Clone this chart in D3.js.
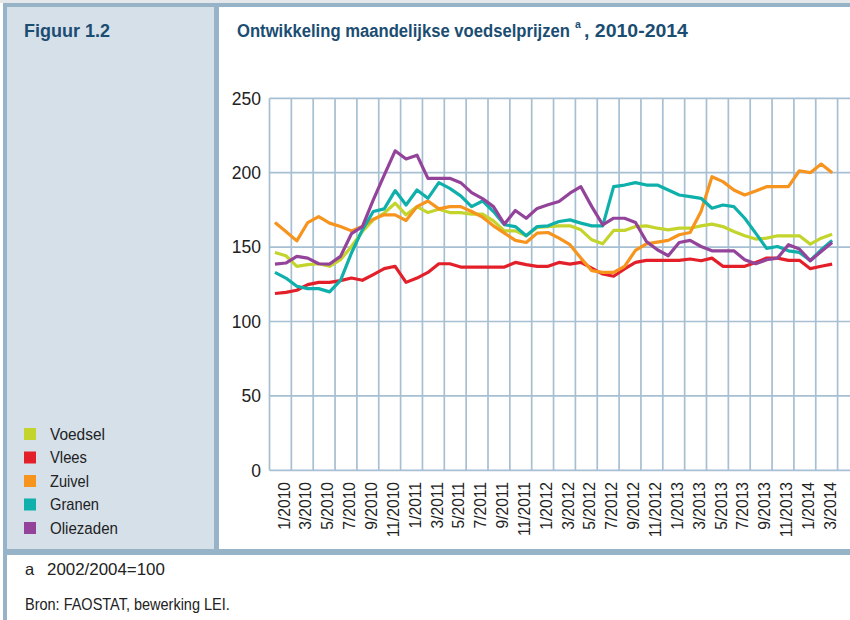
<!DOCTYPE html>
<html><head><meta charset="utf-8">
<script src="https://cdn.jsdelivr.net/npm/d3@7/dist/d3.min.js"></script>
<style>
html,body{margin:0;padding:0;background:#fff;}
svg{display:block;}
text{font-family:"Liberation Sans",Arial,sans-serif;}
</style></head>
<body>
<svg id="chart" width="850" height="620"></svg>
<script>
// ---- data (monthly index, 2002/2004=100), 1/2010 .. 4/2014 ----
const monthCount = 52;
const tickLabels = ["1/2010","3/2010","5/2010","7/2010","9/2010","11/2010",
  "1/2011","3/2011","5/2011","7/2011","9/2011","11/2011",
  "1/2012","3/2012","5/2012","7/2012","9/2012","11/2012",
  "1/2013","3/2013","5/2013","7/2013","9/2013","11/2013",
  "1/2014","3/2014"];
const yTicks = [0, 50, 100, 150, 200, 250];
const seriesNames = ["Voedsel","Vlees","Zuivel","Granen","Oliezaden"];
const seriesColors = ["#c3d52d","#e3202a","#f7941e","#0fb0ab","#93449a"];

const voedsel = [146.4,144.2,137.1,138.2,138.8,137.1,141.5,150.4,160.5,168.3,172.8,179.5,
  171.7,177.2,173.2,175.4,173.2,173.2,172.1,172.1,167.6,160.9,160.9,157.6,163.2,
  163.8,164.3,164.3,161.6,154.9,152.2,161.2,161.2,163.8,164.3,162.7,161.6,162.7,162.7,
  164.3,165.4,163.8,160.5,157.6,155.4,156.0,157.6,157.6,157.6,152.0,156.0,158.7];
const vlees = [118.8,119.6,121.0,124.8,126.3,126.3,127.5,129.2,127.7,131.5,135.5,137.1,
  126.3,129.2,133.0,138.8,138.8,136.6,136.6,136.6,136.6,136.6,139.7,138.2,137.1,
  137.1,139.7,138.6,139.7,135.9,131.9,130.4,135.3,139.7,141.1,141.1,141.1,141.1,142.0,
  140.8,142.6,137.1,137.1,137.1,139.7,142.6,142.6,141.1,141.1,135.5,137.1,138.6];
const zuivel = [166.5,160.5,154.2,166.5,170.5,166.1,163.8,160.9,163.8,168.8,171.7,171.7,
  167.9,177.2,181.0,175.7,177.2,177.2,173.9,170.1,164.3,159.4,154.5,153.1,159.4,
  159.8,156.0,151.6,142.6,134.2,133.0,133.0,137.1,147.8,152.2,153.3,154.5,158.3,159.8,
  173.9,197.3,194.0,188.4,185.0,187.7,190.6,190.6,190.6,201.3,200.0,205.8,200.0];
const granen = [133.0,129.2,123.7,122.1,122.1,119.9,127.7,146.0,161.6,173.9,175.7,188.0,
  178.3,188.4,182.8,193.3,189.5,184.4,177.2,181.0,173.9,165.0,163.8,157.6,163.8,
  164.3,167.2,168.3,166.1,164.3,164.3,190.6,191.7,193.3,191.7,191.7,188.4,185.0,183.9,
  182.8,176.1,178.3,177.2,169.4,159.4,149.1,150.4,147.5,146.4,141.0,148.2,154.5];
const oliezaden = [138.6,139.3,143.8,142.6,138.8,138.6,143.8,159.0,163.8,181.7,198.4,214.7,
  209.2,211.8,196.2,196.2,196.2,193.3,186.6,182.6,177.2,165.4,174.6,169.4,176.0,
  178.5,180.6,186.2,190.6,177.2,165.0,169.4,169.4,166.5,153.8,148.2,144.2,153.1,154.5,
  150.4,147.5,147.5,147.5,141.5,138.8,141.5,142.6,151.6,148.7,140.8,147.1,153.1];
const seriesValues = [voedsel, vlees, zuivel, granen, oliezaden];

const footnoteMark = "a";
const footnoteText = "2002/2004=100";
const sourceText = "Bron: FAOSTAT, bewerking LEI.";

// ---- drawing ----
const svg = d3.select("#chart");
const frameBlue = "#97b3c8", panelFill = "#d5e0e9", gridCol = "#a6bfd2", titleCol = "#1b4d72";

// place a text at (x,y) and stretch it horizontally to a target width
function fitText(parent, str, px, py, targetW, size, opts) {
  const t = parent.append("text").attr("font-size", size).text(str);
  if (opts && opts.bold) t.attr("font-weight", "bold");
  t.attr("fill", (opts && opts.fill) || "#222");
  const w = t.node().getComputedTextLength();
  const k = w > 0 ? targetW / w : 1;
  t.attr("transform", `translate(${px},${py}) scale(${k},1)`);
  return t;
}

// frame
svg.append("rect").attr("x",0).attr("y",0).attr("width",850).attr("height",3).attr("fill","#e4e8eb");
svg.append("rect").attr("x",7).attr("y",7).attr("width",207).attr("height",542).attr("fill",panelFill);
svg.append("rect").attr("x",3).attr("y",3).attr("width",847).attr("height",4).attr("fill",frameBlue);
svg.append("rect").attr("x",3).attr("y",3).attr("width",4).attr("height",617).attr("fill",frameBlue);
svg.append("rect").attr("x",214).attr("y",3).attr("width",5).attr("height",546).attr("fill",frameBlue);
svg.append("rect").attr("x",3).attr("y",549).attr("width",847).attr("height",6).attr("fill",frameBlue);

// titles
fitText(svg, "Figuur 1.2", 24, 37, 86, 19, {bold:true, fill:titleCol});
fitText(svg, "Ontwikkeling maandelijkse voedselprijzen", 237, 37, 333, 19, {bold:true, fill:titleCol});
svg.append("text").attr("x",575).attr("y",28).attr("fill",titleCol)
  .attr("font-weight","bold").attr("font-size",10.5).text("a");
fitText(svg, ", 2010-2014", 584, 37, 104, 19, {bold:true, fill:titleCol});

// scales
const x = d3.scaleLinear().domain([0, monthCount]).range([269.5, 837.6]);
const y = d3.scaleLinear().domain([0, 250]).range([470.3, 98.3]);

// grid
const g = svg.append("g");
g.selectAll("line.h").data(yTicks).enter().append("line")
  .attr("x1", x(0)).attr("x2", 850).attr("y1", d=>y(d)).attr("y2", d=>y(d))
  .attr("stroke", gridCol).attr("stroke-width", 1.7);
const vIdx = d3.range(0, monthCount + 1, 2);
g.selectAll("line.v").data(vIdx).enter().append("line")
  .attr("x1", d=>x(d)).attr("x2", d=>x(d)).attr("y1", y(250)).attr("y2", y(0))
  .attr("stroke", gridCol).attr("stroke-width", 1.7);

// y tick labels
svg.selectAll("text.yt").data(yTicks).enter().append("text")
  .attr("x", 261).attr("y", d=>y(d)).attr("dy","0.36em")
  .attr("text-anchor","end").attr("font-size",17.5).attr("fill","#222")
  .text(d=>d);

// x tick labels
svg.selectAll("text.xt").data(tickLabels).enter().append("text")
  .attr("transform", (d,i)=>`translate(${x(2*i+2)-1.8},482) rotate(-90)`)
  .attr("text-anchor","end").attr("font-size",15.6).attr("fill","#222")
  .text(d=>d);

// lines
const line = d3.line().x((d,i)=>x(i+0.5)).y(d=>y(d));
svg.selectAll("path.s").data(seriesValues).enter().append("path")
  .attr("d", d=>line(d)).attr("fill","none")
  .attr("stroke", (d,i)=>seriesColors[i]).attr("stroke-width",3.2)
  .attr("stroke-linejoin","round");

// legend
const legW = [55, 37, 39, 49, 68];
seriesNames.forEach((name, i) => {
  const yy = 439.5 + i * 23.5;
  svg.append("rect").attr("x",24).attr("y",yy-11.5).attr("width",12).attr("height",12)
    .attr("fill",seriesColors[i]);
  fitText(svg, name, 50, yy, legW[i], 16.5);
});

// footnotes
svg.append("text").attr("x",25).attr("y",575).attr("font-size",16.5).attr("fill","#222").text(footnoteMark);
fitText(svg, footnoteText, 47, 575, 118, 16.5);
fitText(svg, sourceText, 25, 610, 205, 16.5);
</script>
</body></html>
